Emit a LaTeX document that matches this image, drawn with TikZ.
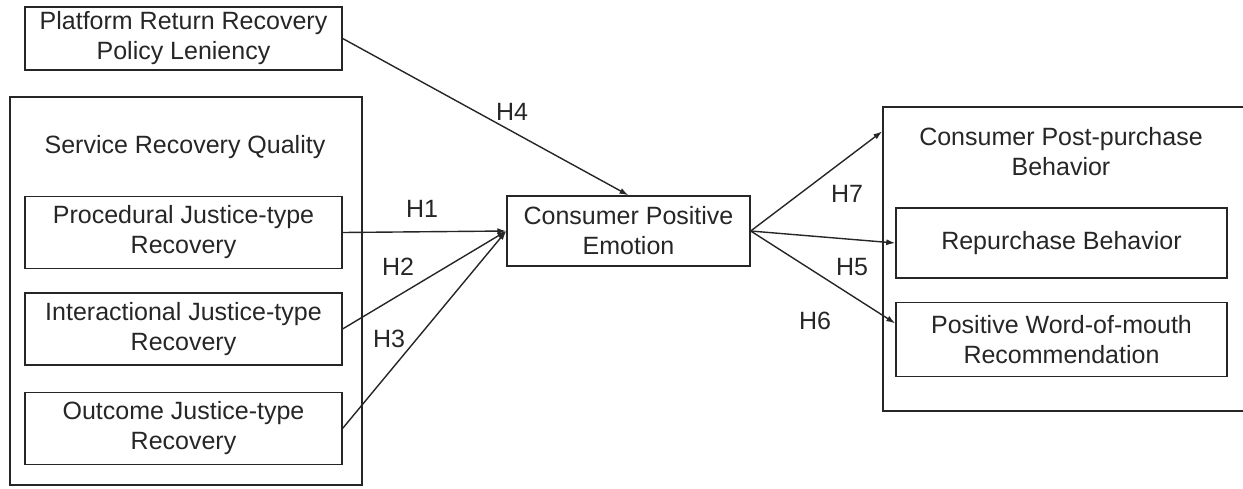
\documentclass[tikz,border=0pt]{standalone}
\usepackage{fontspec}
\setmainfont{Liberation Sans}
\usetikzlibrary{positioning}
\usetikzlibrary{arrows.meta}

\begin{document}
\begin{tikzpicture}[
x=0.5pt, y=-0.5pt,
every node/.style={font=\fontsize{12.5}{15}\selectfont, text=black!85},
box/.style={draw=black!85, line width=0.7pt, align=center, inner sep=0pt},
leftbox/.style={box, minimum width=158.5pt, minimum height=36pt},
rightbox/.style={box, minimum width=165.5pt, minimum height=35pt},
groupbox/.style={draw=black!85, line width=0.7pt, inner sep=0pt},
hyp/.style={draw=black!85, line width=0.7pt, -{Latex[length=4.5pt,width=3pt]}},
]
\clip (0,0) rectangle (1243,488);

%Groups
\node[groupbox, minimum width=176pt, minimum height=194pt] (quality) at (186,291) {};
\node[groupbox, minimum width=188.5pt, minimum height=152pt] (post) at (1071.5,259) {};
\node at (185,147) {Service Recovery Quality};
\node[align=center] at (1061,152) {Consumer Post-purchase\\Behavior};

%Nodes
\node[box, minimum width=158.5pt, minimum height=31.5pt] (platform) at (183.5,38.5) {Platform Return Recovery\\Policy Leniency};
\node[leftbox] (proc) at (183.5,232.5) {Procedural Justice-type\\Recovery};
\node[leftbox] (inter) [below=11.5pt of proc] {Interactional Justice-type\\Recovery};
\node[leftbox] (outcome) [below=13pt of inter] {Outcome Justice-type\\Recovery};
\node[box, minimum width=121.5pt, minimum height=35pt] (cpe) at (628.5,231) {Consumer Positive\\Emotion};
\node[rightbox] (rep) at (1061.5,243) {Repurchase Behavior};
\node[rightbox, minimum height=37pt] (wom) [below=11.5pt of rep] {Positive Word-of-mouth\\Recommendation};
\coordinate[below=12.5pt of post.north west] (h7end);
\coordinate[above=8pt of wom.west] (h6end);

%Lines
\draw[hyp] (platform.east) -- (cpe.north);
\draw[hyp] (proc.east) -- (cpe.west);
\draw[hyp] (inter.east) -- (cpe.west);
\draw[hyp] (outcome.east) -- (cpe.west);
\draw[hyp] (cpe.east) -- (h7end);
\draw[hyp] (cpe.east) -- (rep.west);
\draw[hyp] (cpe.east) -- (h6end);

%Labels
\node (h4) at (512,112) {H4};
\node (h1) at (422,209) {H1};
\node (h2) at (398,267) {H2};
\node (h3) at (389,339) {H3};
\node (h7) at (847,194) {H7};
\node (h5) at (852,267) {H5};
\node (h6) at (815,321) {H6};
\end{tikzpicture}
\end{document}
